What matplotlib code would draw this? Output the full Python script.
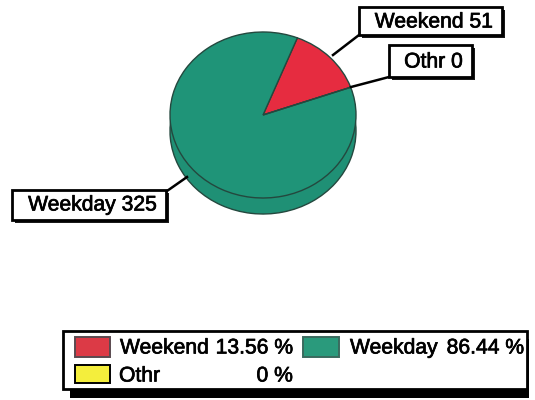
import matplotlib
matplotlib.use('Agg')
import matplotlib.pyplot as plt
import matplotlib.patheffects as pe
from matplotlib.patches import Rectangle

plt.rcParams['font.family'] = ['Liberation Sans', 'DejaVu Sans']

W, H = 535, 400

categories = ['Weekend', 'Weekday', 'Othr']
counts = [51, 325, 0]
percents = ['13.56 %', '86.44 %', '0 %']
colors = ['#e62c40', '#1f9478', '#f4ee3c']
side_colors = ['#c4283a', '#1f9075', '#f4ee3c']
EDGE = '#24483e'
FS = 15.2
BOLDER = [pe.withStroke(linewidth=0.5, foreground='black')]


def box(ax, x0, y0, x1, y1, shadow=3, lw=2):
    ax.add_patch(Rectangle((x0 + shadow, y0 + shadow), x1 - x0, y1 - y0,
                           facecolor='#1a1a1a', edgecolor='none', zorder=3))
    ax.add_patch(Rectangle((x0, y0), x1 - x0, y1 - y0,
                           facecolor='white', edgecolor='black', linewidth=lw, zorder=4))


def label(ax, x, y, s, ha):
    ax.text(x, y, s, ha=ha, va='center', fontsize=FS, color='black', zorder=6,
            path_effects=BOLDER)


fig = plt.figure(figsize=(W / 100, H / 100), dpi=100)

# pie is squashed to an ellipse, axes covers 170..356 x 32..198 px plus the side
pie_ax = fig.add_axes([170 / W, 1 - 214 / H, 186 / W, 182 / H])
depth = 16 / 83
pie_ax.pie(counts, colors=side_colors, startangle=19.5, center=(0, -depth),
           wedgeprops={'edgecolor': EDGE, 'linewidth': 1.0})
pie_ax.pie(counts, colors=colors, startangle=19.5, center=(0, 0),
           wedgeprops={'edgecolor': EDGE, 'linewidth': 1.0})
pie_ax.set_aspect('auto')
pie_ax.set_xlim(-1, 1)
pie_ax.set_ylim(-1 - depth, 1)
pie_ax.axis('off')

# overlay in pixel coordinates for the callouts and the legend
ax = fig.add_axes([0, 0, 1, 1], facecolor='none')
ax.set_xlim(0, W)
ax.set_ylim(H, 0)
ax.axis('off')

# callouts
ax.plot([359, 333], [35, 55], color='black', linewidth=1.8, zorder=2)
ax.plot([389, 351], [77, 87], color='black', linewidth=1.8, zorder=2)
ax.plot([167, 187], [191, 177], color='black', linewidth=1.8, zorder=2)

box(ax, 359, 7, 502, 35)
label(ax, 493, 22, '{} {}'.format(categories[0], counts[0]), 'right')
box(ax, 389, 45, 472, 77)
label(ax, 463, 62, '{} {}'.format(categories[2], counts[2]), 'right')
box(ax, 12, 190, 166, 220)
label(ax, 157, 205, '{} {}'.format(categories[1], counts[1]), 'right')

# legend
ax.add_patch(Rectangle((70, 339), 459, 59, facecolor='black', edgecolor='none', zorder=3))
ax.add_patch(Rectangle((63, 331), 464, 58, facecolor='white', edgecolor='black',
                       linewidth=2, zorder=4))
swatches = [(75, 337, 35, 20), (303, 337, 36, 20), (75, 365, 35, 18)]
swatch_colors = ['#dc3a46', '#2a9a7c', colors[2]]
swatch_edges = ['#5a4a50', '#3a6a5e', 'black']
for (x, y, w, h), c, e in zip(swatches, swatch_colors, swatch_edges):
    ax.add_patch(Rectangle((x, y), w, h, facecolor=c, edgecolor=e, linewidth=1.4, zorder=5))

label(ax, 120, 348, categories[0], 'left')
label(ax, 293, 348, percents[0], 'right')
label(ax, 350, 348, categories[1], 'left')
label(ax, 524, 348, percents[1], 'right')
label(ax, 119, 376, categories[2], 'left')
label(ax, 293, 376, percents[2], 'right')

fig.savefig('out.png', dpi=100)
